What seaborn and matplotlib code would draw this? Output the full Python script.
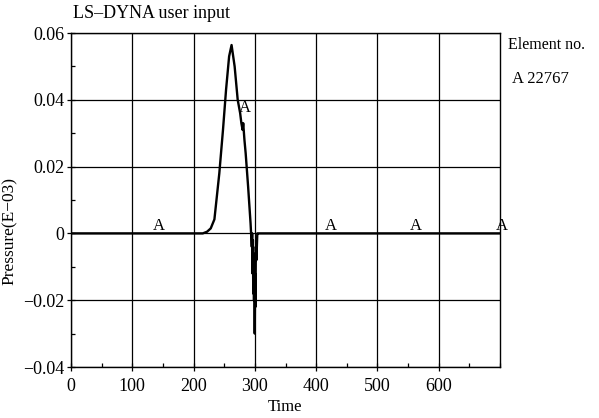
import matplotlib
matplotlib.use("Agg")
import matplotlib.pyplot as plt
import seaborn as sns
import pandas as pd
from matplotlib.ticker import MultipleLocator

# ---- data ----
time = [0, 140, 215, 222, 228, 234, 242, 248, 253, 258, 262, 267, 272, 276,
        278, 280, 281, 283, 285, 289, 293, 295, 295.6, 296.2, 296.8, 297.4,
        298.0, 298.6, 299.2, 299.8, 300.4, 301.0, 301.6, 302.5, 304, 306,
        420, 560, 700]
pressure = [0, 0, 0, 0.0005, 0.0015, 0.0042, 0.018, 0.031, 0.043, 0.053,
            0.0564, 0.050, 0.040, 0.036, 0.033, 0.031, 0.033, 0.028, 0.024,
            0.014, 0.003, -0.004, 0.0, -0.012, -0.002, -0.018, -0.006,
            -0.020, -0.010, -0.030, -0.012, -0.022, -0.004, -0.008, 0.0, 0.0,
            0.0, 0.0, 0.0]
marker_t = [140, 280, 420, 560, 700]
marker_y = [0.0, 0.0355, 0.0, 0.0, 0.0]
x_ticks = [0, 100, 200, 300, 400, 500, 600]
y_ticks = [-0.04, -0.02, 0, 0.02, 0.04, 0.06]
y_tick_labels = ["\u22120.04", "\u22120.02", "0", "0.02", "0.04", "0.06"]

sns.set_theme(style="white")
plt.rcParams["font.family"] = ["Liberation Serif", "DejaVu Serif"]

fig = plt.figure(figsize=(5.99, 4.18), dpi=100)
ax = fig.add_axes([71 / 599, 51 / 418, 429 / 599, 334 / 418])

df = pd.DataFrame({"Time": time, "Pressure": pressure})
sns.lineplot(data=df, x="Time", y="Pressure", sort=False, estimator=None,
             color="black", linewidth=1.7, ax=ax, zorder=3)

for t, y in zip(marker_t, marker_y):
    ax.annotate("A", (t, y), xytext=(1.5, -0.5), textcoords="offset points",
                ha="center", va="bottom", fontsize=12, color="black", zorder=4)

ax.set_xlim(0, 700)
ax.set_ylim(-0.04, 0.06)
ax.set_xticks(x_ticks)
ax.set_xticklabels([str(v) for v in x_ticks])
ax.set_yticks(y_ticks)
ax.set_yticklabels(y_tick_labels)
ax.xaxis.set_minor_locator(MultipleLocator(50))
ax.yaxis.set_minor_locator(MultipleLocator(0.01))
ax.grid(True, which="major", color="black", linewidth=0.9)
ax.tick_params(axis="both", which="major", direction="inout", length=6,
               width=0.9, colors="black", labelsize=13)
ax.tick_params(axis="x", which="major", pad=5)
ax.tick_params(axis="y", which="major", pad=2)
ax.tick_params(axis="both", which="minor", direction="in", length=3,
               width=0.9, colors="black")
ax.tick_params(left=True, bottom=True)
ax.tick_params(which="minor", left=True, bottom=True)
for s in ax.spines.values():
    s.set_color("black")
    s.set_linewidth(1.0)

ax.set_xlabel("Time", fontsize=12, color="black", va="top")
ax.xaxis.set_label_coords(0.5, -0.096)
ax.set_ylabel("Pressure(E\u221203)", fontsize=12.5, color="black")
ax.yaxis.set_label_coords(-0.125, 0.407)

fig.text(73 / 599, 1 - 14 / 418, "LS\u2013DYNA user input", fontsize=13,
         ha="left", va="center", color="black")
fig.text(508 / 599, 1 - 45 / 418, "Element no.", fontsize=11.5,
         ha="left", va="center", color="black")
fig.text(512 / 599, 1 - 79 / 418, "A 22767", fontsize=12,
         ha="left", va="center", color="black")

fig.savefig("out.png", dpi=100, facecolor="white")
